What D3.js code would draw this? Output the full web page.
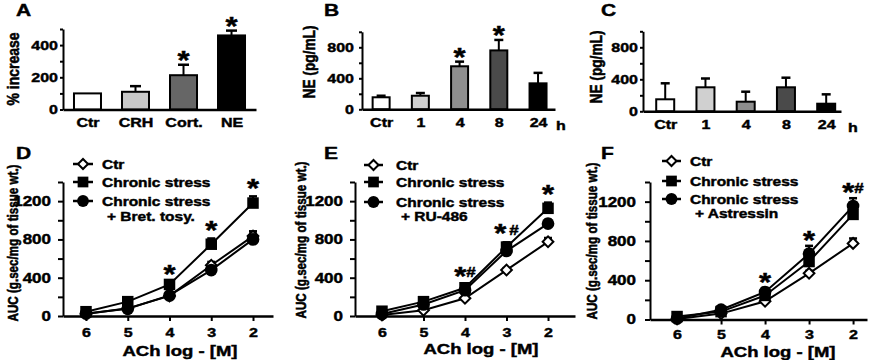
<!DOCTYPE html>
<html><head><meta charset="utf-8">
<script src="https://cdn.jsdelivr.net/npm/d3@7"></script>
<style>
body{margin:0;background:#fff}
text{font-family:"Liberation Sans",Arial,sans-serif;font-weight:bold;fill:#000;stroke:#000;stroke-width:0.55px}
</style>
</head><body>
<svg id="c" width="870" height="360"></svg>
<script>
// ---------- DATA ----------
const catsA = ["Ctr","CRH","Cort.","NE"];
const valsA = [100,110,213,460];
const errA  = [0,35,65,30];
const starsA = [false,false,true,true];
const colorsA = ["#ffffff","#c8c8c8","#666666","#000000"];

const catsB = ["Ctr","1","4","8","24"];
const valsB = [155,175,555,760,335];
const errB  = [20,35,60,135,135];
const starsB = [false,false,true,true,false];

const catsC = ["Ctr","1","4","8","24"];
const valsC = [150,300,120,300,95];
const errC  = [200,110,125,120,117];
const starsC = [false,false,false,false,false];
const colorsBC = ["#ffffff","#d0d0d0","#8e8e8e","#4a4a4a","#000000"];

const doses = ["6","5","4","3","2"];

const ctrD = [20,80,210,530,835],  ctrDErr = [10,15,20,35,50];
const stressD = [45,150,330,750,1180], stressDErr = [15,20,30,60,70];
const bretD = [25,75,215,480,800], bretDErr = [10,15,20,30,60];
const starsD = [["4","*"],["3","*"],["2","*"]];

const ctrE = [10,60,185,480,775], ctrEErr = [5,10,15,20,40];
const stressE = [50,150,295,720,1125], stressEErr = [10,20,30,50,60];
const ruE = [20,120,270,680,965], ruEErr = [10,20,30,40,40];
const starsE = [["4","*#"],["3","* #"],["2","*"]];

const ctrF = [5,60,185,470,775], ctrFErr = [5,10,15,25,50];
const stressF = [30,80,245,590,1070], stressFErr = [10,15,30,50,50];
const astF = [10,100,280,670,1155], astFErr = [10,20,40,80,80];
const starsF = [["4","*"],["3","*"],["2","*#"]];

const legendNames = ["Ctr","Chronic stress","Chronic stress"];

// ---------- HELPERS ----------
const svg = d3.select("#c");
const K = 0.82;
function sq(sel, k=K){
  sel.each(function(){
    const t = d3.select(this);
    const y = +t.attr("y") || 0;
    t.attr("transform", `translate(0,${y*(1-k)}) scale(1,${k})`);
  });
}
function label(g, x, y, str, size, anchor="start"){
  const t = g.append("text").attr("x",x).attr("y",y).attr("font-size",size)
    .attr("text-anchor",anchor).text(str);
  sq(t);
  return t;
}
function yTitle(g, cx, cy, str, size, len){
  g.append("text").attr("transform",`translate(${cx},${cy}) rotate(-90)`)
    .attr("text-anchor","middle").attr("dominant-baseline","central")
    .attr("font-size",size).attr("textLength",len).attr("lengthAdjust","spacingAndGlyphs")
    .text(str);
}
function starText(g, x, yc, str){
  const t = g.append("text").attr("x",x).attr("y",yc+14).attr("text-anchor","middle");
  let shifted = false;
  for (const ch of str){
    if (ch === "#"){
      t.append("tspan").attr("font-size",17).attr("dy",shifted?0:-9.5).text("#");
      shifted = true;
    } else if (ch === "*"){
      t.append("tspan").attr("font-size",31).attr("dy",shifted?9.5:0).text("*");
      shifted = false;
    } else {
      t.append("tspan").attr("font-size",10).attr("dy",shifted?9.5:0).text("\u00a0");
      shifted = false;
    }
  }
  sq(t);
}
function styleAxis(ax, fs){
  ax.selectAll("path,line").attr("stroke","#000").attr("stroke-width",2);
  ax.selectAll("text").attr("font-size",fs).attr("font-family",null).attr("fill",null).call(sq);
  ax.attr("font-family",null).attr("font-size",null);
}

// ---------- BAR PANELS ----------
function barPanel(o){
  const g = svg.append("g");
  const x = d3.scalePoint().domain(o.cats).range(o.xr).padding(o.pad).align(o.align);
  const y = d3.scaleLinear().domain(o.yd).range(o.yr);
  g.selectAll("rect").data(o.vals).join("rect")
    .attr("x",(d,i)=>x(o.cats[i])-o.bw/2).attr("width",o.bw)
    .attr("y",d=>y(d)).attr("height",d=>y(0)-y(d))
    .attr("fill",(d,i)=>o.colors[i]).attr("stroke","#000").attr("stroke-width",2);
  o.vals.forEach((v,i)=>{
    const e = o.errs[i];
    if (e > 0){
      const cx = x(o.cats[i]);
      g.append("line").attr("x1",cx).attr("x2",cx).attr("y1",y(v)).attr("y2",y(v+e))
        .attr("stroke","#000").attr("stroke-width",2);
      g.append("line").attr("x1",cx-o.cap/2).attr("x2",cx+o.cap/2).attr("y1",y(v+e)).attr("y2",y(v+e))
        .attr("stroke","#000").attr("stroke-width",2.5);
    }
    if (o.stars[i]) starText(g, x(o.cats[i]), y(v+e)-10, "*");
  });
  const ya = g.append("g").attr("transform",`translate(${o.xr[0]},0)`)
    .call(d3.axisLeft(y).tickValues(o.major).tickSize(o.ts).tickPadding(o.tp).tickSizeOuter(0).tickFormat(d3.format("d")));
  styleAxis(ya, 16);
  const ym = g.append("g").attr("transform",`translate(${o.xr[0]},0)`)
    .call(d3.axisLeft(y).tickValues(o.minor).tickSize(o.ts).tickFormat(""));
  ym.select(".domain").remove(); styleAxis(ym, 16);
  const xa = g.append("g").attr("transform",`translate(0,${y(0)})`)
    .call(d3.axisBottom(x).tickSize(0).tickPadding(8).tickSizeOuter(0));
  styleAxis(xa, 16);
  xa.select(".domain").attr("stroke-width",2.5);
  if (o.unit) label(g, o.unit, y(0)+21, "h", 16, "middle");
  yTitle(g, o.title[0], o.title[1], o.title[2], 17, o.title[3]);
  label(g, o.letter[0], o.letter[1], o.letter[2], 21);
}

barPanel({cats:catsA, vals:valsA, errs:errA, stars:starsA, colors:colorsA,
  xr:[63,256], pad:0.51, align:0.5, bw:27, cap:11, yd:[0,500], yr:[109.5,29],
  major:[0,200,400], minor:[100,300,500], ts:3, tp:2,
  title:[13,69,"% increase",73], letter:[16,16,"A"]});
barPanel({cats:catsB, vals:valsB, errs:errB, stars:starsB, colors:colorsBC,
  xr:[362,555], pad:0.46, align:0.53, bw:17, cap:9, yd:[0,1000], yr:[109.3,31.8],
  major:[0,400,800], minor:[200,600,1000], ts:3, tp:5, unit:561,
  title:[309,62,"NE (pg/mL)",73], letter:[324,16,"B"]});
barPanel({cats:catsC, vals:valsC, errs:errC, stars:starsC, colors:colorsBC,
  xr:[643,841], pad:0.46, align:0.6, bw:18, cap:9, yd:[0,1000], yr:[111.3,31.3],
  major:[0,400,800], minor:[200,600,1000], ts:3, tp:2, unit:853,
  title:[596,67,"NE (pg/mL)",73], letter:[601,16,"C"]});

// ---------- LINE PANELS ----------
function marker(g, kind, cx, cy, s){
  if (kind === "diamond"){
    g.append("path").attr("d", d3.symbol(d3.symbolSquare, 50*s)())
      .attr("transform",`translate(${cx},${cy}) rotate(45)`)
      .attr("fill","#fff").attr("stroke","#000").attr("stroke-width",2);
  } else if (kind === "square"){
    g.append("path").attr("d", d3.symbol(d3.symbolSquare, 115*s)())
      .attr("transform",`translate(${cx},${cy})`).attr("fill","#000");
  } else {
    g.append("path").attr("d", d3.symbol(d3.symbolCircle, 110*s)())
      .attr("transform",`translate(${cx},${cy})`).attr("fill","#000");
  }
}
function linePanel(o){
  const g = svg.append("g");
  const x = d3.scalePoint().domain(doses).range(o.xr).padding(o.pad).align(o.align);
  const y = d3.scaleLinear().domain([0,1400]).range(o.yr);
  const kinds = ["diamond","square","circle"];
  const line = d3.line().x((d,i)=>x(doses[i])).y(d=>y(d));
  o.series.forEach(s=>{
    g.append("path").attr("d",line(s.v)).attr("fill","none").attr("stroke","#000").attr("stroke-width",2);
  });
  o.series.forEach(s=>{
    s.v.forEach((v,i)=>{
      const cx = x(doses[i]), e = s.e[i];
      g.append("line").attr("x1",cx).attr("x2",cx).attr("y1",y(v)).attr("y2",y(v+e))
        .attr("stroke","#000").attr("stroke-width",2);
      g.append("line").attr("x1",cx-4).attr("x2",cx+4).attr("y1",y(v+e)).attr("y2",y(v+e))
        .attr("stroke","#000").attr("stroke-width",2.5);
    });
  });
  o.series.forEach((s,k)=>{
    s.v.forEach((v,i)=>marker(g, kinds[k], x(doses[i]), y(v), 1.15));
  });
  o.stars.forEach(([d,str])=>{
    const i = doses.indexOf(d);
    const top = d3.max(o.series, s=>s.v[i]+s.e[i]);
    starText(g, x(d), y(top)-o.soff, str);
  });
  const ya = g.append("g").attr("transform",`translate(${o.xr[0]},0)`)
    .call(d3.axisLeft(y).tickValues([0,400,800,1200]).tickSize(5).tickPadding(o.tp).tickSizeOuter(0).tickFormat(d3.format("d")));
  styleAxis(ya, 17);
  const ym = g.append("g").attr("transform",`translate(${o.xr[0]},0)`)
    .call(d3.axisLeft(y).tickValues([200,600,1000,1400]).tickSize(5).tickFormat(""));
  ym.select(".domain").remove(); styleAxis(ym, 17);
  const xa = g.append("g").attr("transform",`translate(0,${y(0)})`)
    .call(d3.axisBottom(x).tickSize(5).tickPadding(o.xp).tickSizeOuter(0));
  styleAxis(xa, 16);
  xa.select(".domain").attr("stroke-width",2.5);
  label(g, o.xt[0], o.xt[1], "ACh log - [M]", 18.5, "middle");
  yTitle(g, o.yt[0], o.yt[1], "AUC (g.sec/mg of tissue wt.)", 14, 157);
  label(g, o.letter[0], o.letter[1], o.letter[2], 21);
  // legend
  const L = o.leg;
  legendNames.forEach((n,k)=>{
    const ry = L.rows[k];
    g.append("line").attr("x1",L.x0).attr("x2",L.x1).attr("y1",ry).attr("y2",ry)
      .attr("stroke","#000").attr("stroke-width",2.5);
    marker(g, kinds[k], (L.x0+L.x1)/2, ry, 1);
    label(g, L.tx, ry+5, n, 15.5);
  });
  label(g, L.tx+5, L.extraY+5, L.extra, 15.5);
}

linePanel({series:[{v:ctrD,e:ctrDErr},{v:stressD,e:stressDErr},{v:bretD,e:bretDErr}],
  stars:starsD, soff:13, xr:[63,273], pad:0.515, align:0.535, yr:[316,182], tp:7, xp:7,
  xt:[180,356], yt:[13,243], letter:[16,159,"D"],
  leg:{x0:73,x1:93,tx:102,rows:[164,182,201],extra:"+ Bret. tosy.",extraY:216}});
linePanel({series:[{v:ctrE,e:ctrEErr},{v:stressE,e:stressEErr},{v:ruE,e:ruEErr}],
  stars:starsE, soff:14, xr:[355,575], pad:0.65, align:0.5, yr:[316,182], tp:7, xp:7,
  xt:[481,354], yt:[301,240], letter:[324,159,"E"],
  leg:{x0:364,x1:383,tx:396,rows:[165,182,202],extra:"+ RU-486",extraY:216}});
linePanel({series:[{v:ctrF,e:ctrFErr},{v:stressF,e:stressFErr},{v:astF,e:astFErr}],
  stars:starsF, soff:11, xr:[650,867], pad:0.466, align:0.66, yr:[319.5,182], tp:9, xp:5,
  xt:[778,357.5], yt:[592,241], letter:[601,159,"F"],
  leg:{x0:662,x1:681,tx:690,rows:[161,181,199],extra:"+ Astressin",extraY:213}});
</script>
</body></html>
